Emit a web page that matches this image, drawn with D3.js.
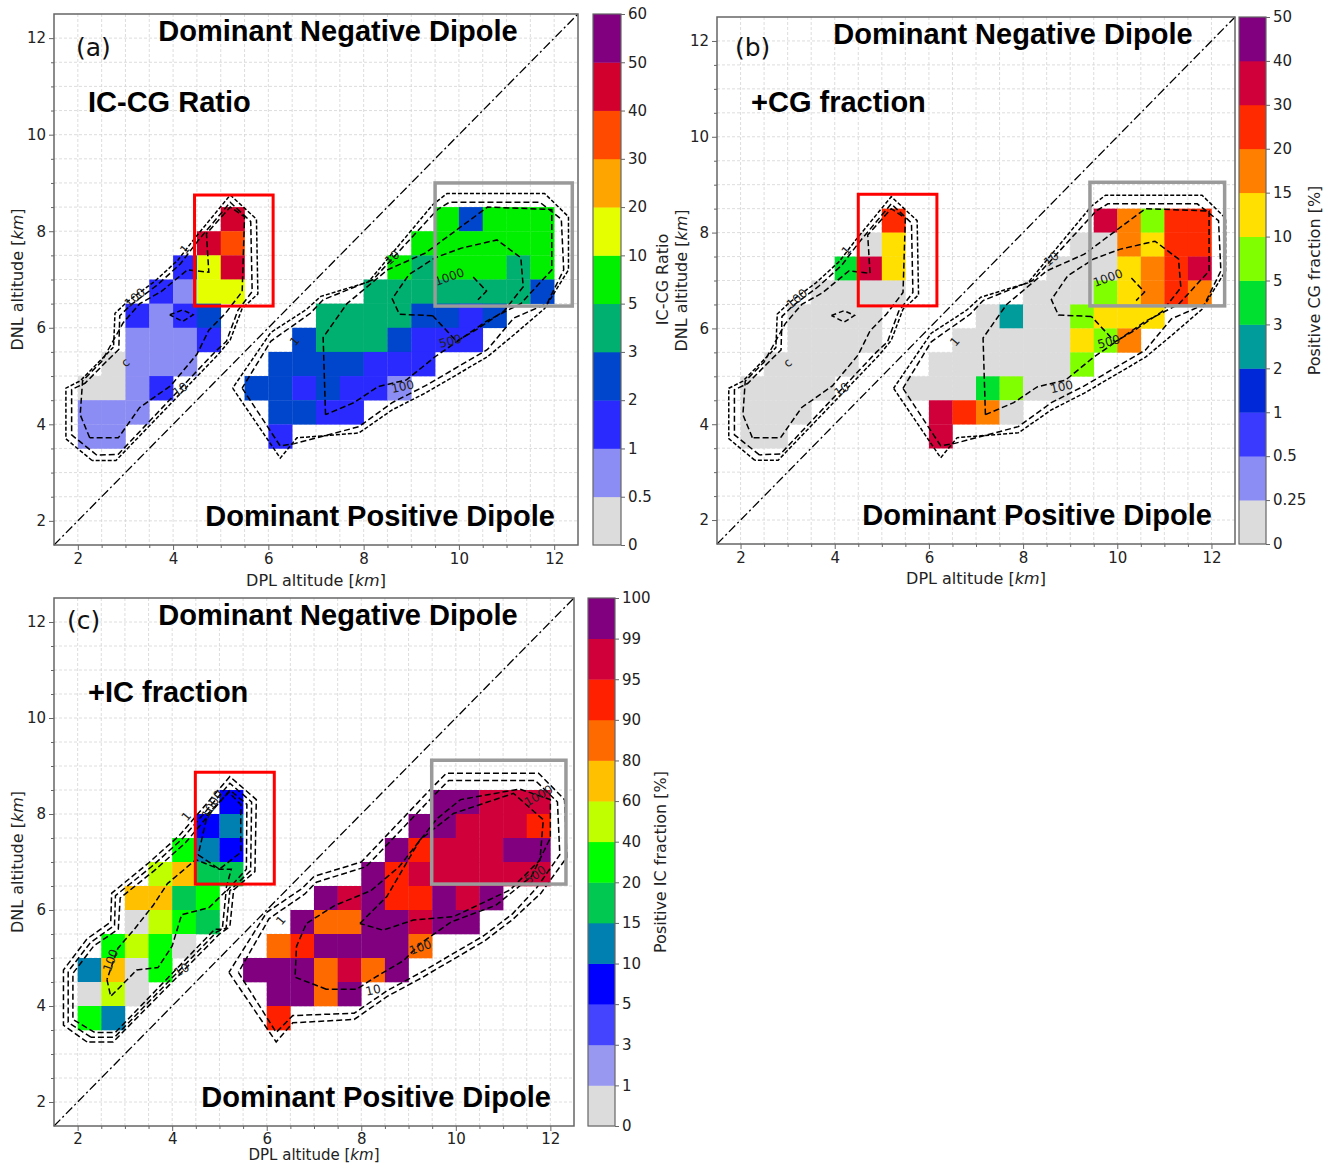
<!DOCTYPE html>
<html><head><meta charset="utf-8">
<script src="https://cdn.jsdelivr.net/npm/d3@7"></script>
<style>body{margin:0;background:#fff}</style>
</head><body>
<svg id="c" width="1334" height="1165" xmlns="http://www.w3.org/2000/svg"></svg>
<script>
// ---------------- data ----------------
const axisTicks = [2, 4, 6, 8, 10, 12];

const ratioBounds = [0, 0.5, 1, 2, 3, 5, 10, 20, 30, 40, 50, 60];
const ratioColors = ["#dcdcdc", "#8c8cf5", "#2a2aff", "#0046cc", "#00b070", "#00f000", "#e6ff00", "#ffa500", "#ff4a00", "#d2002d", "#800080"];

const cgBounds = [0, 0.25, 0.5, 1, 2, 3, 5, 10, 15, 20, 30, 40, 50];
const cgColors = ["#dcdcdc", "#8c8cf5", "#3a3aff", "#0028d8", "#009b9b", "#00e030", "#80ff00", "#ffe000", "#ff8000", "#ff2a00", "#d0003a", "#800080"];

const icBounds = [0, 1, 3, 5, 10, 15, 20, 40, 60, 80, 90, 95, 99, 100];
const icColors = ["#dcdcdc", "#9898f0", "#4444ff", "#0000ff", "#0080b0", "#00c850", "#00ff00", "#c0ff00", "#ffc000", "#ff6a00", "#ff2000", "#d0003a", "#800080"];

// [DPL km (cell left), DNL km (cell bottom), value]
const ratioCells = [
  [5,8,45],
  [4.5,7.5,45],[5,7.5,35],
  [4,7,1.5],[4.5,7,15],[5,7,45],
  [3.5,6.5,1.5],[4,6.5,0.7],[4.5,6.5,15],[5,6.5,15],
  [3,6,1.5],[3.5,6,0.7],[4,6,1.5],[4.5,6,2.5],
  [3,5.5,0.7],[3.5,5.5,0.7],[4,5.5,0.7],[4.5,5.5,1.5],
  [2.5,5,0.3],[3,5,0.7],[3.5,5,0.7],[4,5,0.7],
  [2,4.5,0.3],[2.5,4.5,0.3],[3,4.5,0.7],[3.5,4.5,1.5],
  [2,4,0.7],[2.5,4,0.7],[3,4,0.7],
  [2,3.5,0.7],[2.5,3.5,0.7],
  [9.5,8,7],[10,8,2.5],[10.5,8,7],[11,8,7],[11.5,8,7],
  [9,7.5,7],[9.5,7.5,7],[10,7.5,7],[10.5,7.5,7],[11,7.5,7],[11.5,7.5,7],
  [8.5,7,7],[9,7,4],[9.5,7,7],[10,7,7],[10.5,7,7],[11,7,4],[11.5,7,7],
  [8,6.5,4],[8.5,6.5,4],[9,6.5,4],[9.5,6.5,4],[10,6.5,4],[10.5,6.5,4],[11,6.5,4],[11.5,6.5,2.5],
  [7,6,4],[7.5,6,4],[8,6,4],[8.5,6,4],[9,6,2.5],[9.5,6,2.5],[10,6,1.5],[10.5,6,2.5],
  [6.5,5.5,2.5],[7,5.5,4],[7.5,5.5,4],[8,5.5,4],[8.5,5.5,2.5],[9,5.5,1.5],[9.5,5.5,1.5],[10,5.5,1.5],
  [6,5,2.5],[6.5,5,2.5],[7,5,2.5],[7.5,5,2.5],[8,5,1.5],[8.5,5,1.5],[9,5,1.5],
  [5.5,4.5,2.5],[6,4.5,2.5],[6.5,4.5,1.5],[7,4.5,2.5],[7.5,4.5,1.5],[8,4.5,1.5],[8.5,4.5,0.7],
  [6,4,2.5],[6.5,4,2.5],[7,4,1.5],[7.5,4,1.5],
  [6,3.5,1.5]
];

const cgCells = [
  [5,8,25],
  [4.5,7.5,0.1],[5,7.5,12],
  [4,7,4],[4.5,7,35],[5,7,12],
  [3.5,6.5,0.1],[4,6.5,0.1],[4.5,6.5,0.1],[5,6.5,0.1],
  [3,6,0.1],[3.5,6,0.1],[4,6,0.1],[4.5,6,0.1],
  [3,5.5,0.1],[3.5,5.5,0.1],[4,5.5,0.1],[4.5,5.5,0.1],
  [2.5,5,0.1],[3,5,0.1],[3.5,5,0.1],[4,5,0.1],
  [2,4.5,0.1],[2.5,4.5,0.1],[3,4.5,0.1],[3.5,4.5,0.1],
  [2,4,0.1],[2.5,4,0.1],[3,4,0.1],
  [2,3.5,0.1],[2.5,3.5,0.1],
  [9.5,8,35],[10,8,17],[10.5,8,7],[11,8,25],[11.5,8,25],
  [9,7.5,0.1],[9.5,7.5,0.1],[10,7.5,17],[10.5,7.5,12],[11,7.5,25],[11.5,7.5,25],
  [8.5,7,0.1],[9,7,0.1],[9.5,7,0.1],[10,7,12],[10.5,7,17],[11,7,25],[11.5,7,35],
  [8,6.5,0.1],[8.5,6.5,0.1],[9,6.5,0.1],[9.5,6.5,7],[10,6.5,12],[10.5,6.5,17],[11,6.5,25],[11.5,6.5,17],
  [7,6,0.1],[7.5,6,2.5],[8,6,0.1],[8.5,6,0.1],[9,6,7],[9.5,6,12],[10,6,12],[10.5,6,12],
  [6.5,5.5,0.1],[7,5.5,0.1],[7.5,5.5,0.1],[8,5.5,0.1],[8.5,5.5,0.1],[9,5.5,12],[9.5,5.5,7],[10,5.5,17],
  [6,5,0.1],[6.5,5,0.1],[7,5,0.1],[7.5,5,0.1],[8,5,0.1],[8.5,5,0.1],[9,5,7],
  [5.5,4.5,0.1],[6,4.5,0.1],[6.5,4.5,0.1],[7,4.5,4],[7.5,4.5,7],[8,4.5,0.1],[8.5,4.5,0.1],
  [6,4,35],[6.5,4,25],[7,4,17],[7.5,4,0.1],
  [6,3.5,35]
];

const icCells = [
  [5,8,7],
  [4.5,7.5,7],[5,7.5,12],
  [4,7,30],[4.5,7,12],[5,7,7],
  [3.5,6.5,50],[4,6.5,70],[4.5,6.5,17],[5,6.5,17],
  [3,6,70],[3.5,6,70],[4,6,17],[4.5,6,30],
  [3,5.5,0.5],[3.5,5.5,50],[4,5.5,30],[4.5,5.5,17],
  [2.5,5,30],[3,5,50],[3.5,5,30],[4,5,0.5],
  [2,4.5,12],[2.5,4.5,70],[3,4.5,0.5],[3.5,4.5,30],
  [2,4,0.5],[2.5,4,50],[3,4,0.5],
  [2,3.5,30],[2.5,3.5,12],
  [9.5,8,99.5],[10,8,99.5],[10.5,8,97],[11,8,97],[11.5,8,97],
  [9,7.5,99.5],[9.5,7.5,99.5],[10,7.5,97],[10.5,7.5,97],[11,7.5,97],[11.5,7.5,92],
  [8.5,7,99.5],[9,7,92],[9.5,7,97],[10,7,97],[10.5,7,97],[11,7,99.5],[11.5,7,99.5],
  [8,6.5,99.5],[8.5,6.5,92],[9,6.5,97],[9.5,6.5,97],[10,6.5,97],[10.5,6.5,97],[11,6.5,97],[11.5,6.5,97],
  [7,6,99.5],[7.5,6,97],[8,6,99.5],[8.5,6,92],[9,6,92],[9.5,6,99.5],[10,6,97],[10.5,6,99.5],
  [6.5,5.5,99.5],[7,5.5,85],[7.5,5.5,85],[8,5.5,99.5],[8.5,5.5,99.5],[9,5.5,97],[9.5,5.5,99.5],[10,5.5,99.5],
  [6,5,85],[6.5,5,92],[7,5,99.5],[7.5,5,99.5],[8,5,99.5],[8.5,5,99.5],[9,5,85],
  [5.5,4.5,99.5],[6,4.5,99.5],[6.5,4.5,99.5],[7,4.5,85],[7.5,4.5,97],[8,4.5,85],[8.5,4.5,99.5],
  [6,4,99.5],[6.5,4,99.5],[7,4,85],[7.5,4,99.5],
  [6,3.5,92]
];

// flash-count contours (km coordinates)
const countContoursAB = [
  {dash:"4,2", pts:[[2.3,3.25],[1.75,3.7],[1.75,4.75],[2.05,4.9],[2.55,5.4],[2.75,5.6],[2.78,6.3],[3.05,6.55],[3.6,6.95],[4.1,7.4],[4.45,7.85],[5.2,8.75],[5.75,8.25],[5.78,6.7],[5.45,6.4],[5.2,5.75],[4.95,5.45],[2.8,3.25],[2.3,3.25]]},
  {dash:"6,3", pts:[[2.4,3.36],[1.87,3.78],[1.87,4.72],[2.15,4.85],[2.62,5.32],[2.86,5.55],[2.88,6.25],[3.12,6.48],[3.66,6.88],[4.15,7.32],[4.52,7.8],[5.2,8.6],[5.63,8.2],[5.66,6.75],[5.36,6.36],[5.12,5.72],[4.88,5.5],[2.85,3.38],[2.4,3.36]]},
  {dash:"6,3", pts:[[2.25,3.72],[2.05,4.2],[2.1,4.9],[2.5,5.3],[2.95,6.1],[3.3,6.5],[3.75,6.75],[4.3,7.2],[4.75,7.15],[4.7,7.95],[5.2,8.5],[5.5,8.3],[5.45,6.75],[5.1,6.3],[4.75,5.95],[4.5,5.45],[3.95,4.8],[3.3,4.35],[2.85,3.72],[2.25,3.72]]},
  {dash:"5,3", pts:[[3.93,6.27],[4.2,6.37],[4.42,6.27],[4.2,6.13],[3.93,6.27]]},
  {dash:"4,2", pts:[[5.25,4.75],[6.25,3.3],[6.6,3.72],[7.9,3.82],[8.6,4.3],[9.3,4.65],[10.6,5.4],[11.15,5.85],[11.8,6.4],[12.3,7.2],[12.3,8.3],[11.8,8.78],[9.75,8.78],[9.45,8.55],[8.1,6.95],[7.1,6.65],[6.8,6.38],[6.05,5.9],[5.25,4.75]]},
  {dash:"6,3", pts:[[5.45,4.75],[6.25,3.55],[6.55,3.6],[7.9,3.95],[8.6,4.45],[9.3,4.8],[10.6,5.55],[11.15,6.2],[11.85,6.5],[12.2,7.2],[12.15,8.25],[11.7,8.6],[9.8,8.6],[9.55,8.45],[8.2,7.0],[7.15,6.58],[6.88,6.3],[6.05,5.72],[5.45,4.75]]},
  {dash:"6,3", pts:[[7.2,4.2],[7.15,5.8],[7.65,6.5],[8.5,7.2],[9.3,7.55],[10.6,8.5],[11.95,8.45],[11.95,7.2],[11.3,6.5],[10.6,6.15],[9.5,5.4],[8.9,4.92],[8.3,4.78],[7.8,4.45],[7.2,4.2]]},
  {dash:"6,3", pts:[[9.45,6.25],[8.75,6.28],[8.6,6.6],[8.95,7.1],[9.5,7.45],[10.05,7.65],[10.8,7.82],[11.3,7.45],[11.35,6.85],[10.95,6.35],[10.35,5.95],[9.95,5.72],[9.45,6.25]]},
  {dash:"6,3", pts:[[10.3,7.05],[10.58,6.76],[10.4,6.58]]}
];
const countLabelsAB = [
  {t:"1", x:4.25, y:7.62, r:-50}, {t:"100", x:3.2, y:6.62, r:-40}, {t:"c", x:3.0, y:5.28, r:-40},
  {t:"10", x:4.15, y:4.72, r:-35}, {t:"1", x:6.55, y:5.72, r:-50}, {t:"10", x:8.6, y:7.45, r:-40},
  {t:"1000", x:9.8, y:7.05, r:-20}, {t:"500", x:9.82, y:5.72, r:-15}, {t:"100", x:8.82, y:4.78, r:-12}
];

const countContoursC = [
  {dash:"6,3", pts:[[2.2,3.25],[1.7,3.6],[1.7,4.75],[2.2,5.4],[2.7,5.75],[2.72,6.35],[3.5,6.98],[4.15,7.55],[5.22,8.78],[5.78,8.3],[5.75,6.8],[5.3,6.42],[5.22,5.65],[5.0,5.5],[2.75,3.25],[2.2,3.25]]},
  {dash:"6,3", pts:[[2.28,3.35],[1.8,3.66],[1.8,4.72],[2.27,5.32],[2.78,5.68],[2.8,6.3],[3.56,6.9],[4.2,7.47],[5.22,8.64],[5.68,8.25],[5.66,6.82],[5.22,6.4],[5.14,5.62],[4.95,5.55],[2.78,3.35],[2.28,3.35]]},
  {dash:"6,3", pts:[[2.36,3.45],[1.9,3.72],[1.9,4.68],[2.34,5.25],[2.86,5.6],[2.9,6.25],[3.62,6.82],[4.28,7.4],[5.22,8.5],[5.58,8.2],[5.57,6.85],[5.14,6.38],[5.06,5.6],[4.9,5.6],[2.8,3.45],[2.36,3.45]]},
  {dash:"6,3", pts:[[2.62,4.55],[2.7,4.2],[3.25,4.75],[3.7,4.8],[4.0,5.25],[4.2,5.9],[4.78,6.05],[5.12,6.38],[5.25,6.85],[5.0,6.85],[4.5,7.05],[3.9,6.55],[3.6,6.1],[3.2,5.6],[2.85,5.2],[2.62,4.55]]},
  {dash:"6,3", pts:[[4.55,7.15],[5.0,6.85],[5.45,7.2],[5.45,8.2],[5.2,8.45],[4.75,8.0],[4.55,7.15]]},
  {dash:"6,3", pts:[[5.2,4.7],[6.2,3.25],[6.55,3.65],[7.85,3.72],[8.55,4.2],[9.3,4.6],[10.6,5.35],[11.2,5.8],[11.8,6.35],[12.35,7.1],[12.3,8.3],[11.75,8.85],[9.8,8.85],[9.45,8.5],[8.0,7.0],[7.0,6.7],[6.75,6.45],[6.0,5.95],[5.2,4.7]]},
  {dash:"6,3", pts:[[5.4,4.7],[6.2,3.45],[6.55,3.8],[7.85,3.85],[8.55,4.32],[9.3,4.72],[10.6,5.47],[11.2,5.92],[11.7,6.45],[12.2,7.15],[12.15,8.25],[11.68,8.7],[9.85,8.7],[9.55,8.4],[8.1,6.9],[7.05,6.58],[6.8,6.33],[6.05,5.82],[5.4,4.7]]},
  {dash:"6,3", pts:[[7.26,4.35],[6.6,4.6],[6.63,5.24],[6.84,5.72],[7.45,6.1],[8.2,6.4],[8.8,6.9],[9.6,7.9],[10.1,8.3],[11.35,8.52],[12.0,8.3],[12.0,7.5],[11.6,6.7],[10.85,6.1],[9.9,5.75],[9.25,5.3],[8.9,4.95],[8.3,4.6],[7.9,4.35],[7.26,4.35]]},
  {dash:"6,3", pts:[[7.97,5.72],[8.54,6.28],[9.24,7.46],[9.95,8.01],[11.22,8.43],[11.85,7.88],[11.78,7.04],[11.15,6.42],[9.95,5.86],[9.1,5.79],[8.46,5.58],[7.97,5.72]]}
];
const countLabelsC = [
  {t:"1", x:4.3, y:7.95, r:-50}, {t:"1000", x:4.85, y:8.2, r:-60}, {t:"100", x:2.7, y:4.95, r:-70},
  {t:"10", x:4.2, y:4.75, r:-30}, {t:"1", x:6.3, y:5.78, r:-50}, {t:"10", x:8.25, y:4.33, r:-12},
  {t:"100", x:9.25, y:5.22, r:-20}, {t:"500", x:11.68, y:6.73, r:-35}, {t:"1000", x:11.75, y:8.38, r:-30}
];

// ---------------- drawing ----------------
const svg = d3.select("#c");
const TICKFONT = "DejaVu Sans, sans-serif";
const BOLDFONT = "Liberation Sans, Arial, sans-serif";

function drawPanel(p) {
  const x = d3.scaleLinear().domain([1.5, 12.5]).range([p.l, p.r]);
  const y = d3.scaleLinear().domain([1.5, 12.5]).range([p.b, p.t]);
  const g = svg.append("g");
  const gridVals = d3.range(2, 12.01, 0.5);
  g.selectAll("line.gx").data(gridVals).join("line")
    .attr("x1", d => x(d)).attr("x2", d => x(d)).attr("y1", p.t).attr("y2", p.b)
    .attr("stroke", "#d6d6d6").attr("stroke-width", 0.8).attr("stroke-dasharray", "3,2");
  g.selectAll("line.gy").data(gridVals).join("line")
    .attr("y1", d => y(d)).attr("y2", d => y(d)).attr("x1", p.l).attr("x2", p.r)
    .attr("stroke", "#d6d6d6").attr("stroke-width", 0.8).attr("stroke-dasharray", "3,2");

  const color = d3.scaleThreshold().domain(p.bounds.slice(1, -1)).range(p.colors);
  g.selectAll("rect.cell").data(p.cells).join("rect")
    .attr("x", d => x(d[0])).attr("y", d => y(d[1] + 0.5))
    .attr("width", d => x(d[0] + 0.5) - x(d[0]) + 0.3)
    .attr("height", d => y(d[1]) - y(d[1] + 0.5) + 0.3)
    .attr("fill", d => color(d[2]));

  g.append("line").attr("x1", x(1.5)).attr("y1", y(1.5)).attr("x2", x(12.5)).attr("y2", y(12.5))
    .attr("stroke", "#000").attr("stroke-width", 1.3).attr("stroke-dasharray", "9,3,2,3");

  const line = d3.line().x(d => x(d[0])).y(d => y(d[1]));
  p.contours.forEach(c => {
    g.append("path").attr("d", line(c.pts)).attr("fill", "none")
      .attr("stroke", "#000").attr("stroke-width", 1.5).attr("stroke-dasharray", c.dash);
  });
  p.labels.forEach(l => {
    g.append("text").attr("transform", `translate(${x(l.x)},${y(l.y)}) rotate(${l.r})`)
      .attr("text-anchor", "middle").attr("dominant-baseline", "central")
      .attr("font-family", TICKFONT).attr("font-size", 12).attr("fill", "#222").text(l.t);
  });

  // highlight boxes
  g.append("rect").attr("x", x(p.red[0])).attr("y", y(p.red[3])).attr("width", x(p.red[1]) - x(p.red[0]))
    .attr("height", y(p.red[2]) - y(p.red[3])).attr("fill", "none").attr("stroke", "#ff0000").attr("stroke-width", 3);
  g.append("rect").attr("x", x(p.gray[0])).attr("y", y(p.gray[3])).attr("width", x(p.gray[1]) - x(p.gray[0]))
    .attr("height", y(p.gray[2]) - y(p.gray[3])).attr("fill", "none").attr("stroke", "#9a9a9a").attr("stroke-width", 3.5);

  // frame
  g.append("rect").attr("x", p.l).attr("y", p.t).attr("width", p.r - p.l).attr("height", p.b - p.t)
    .attr("fill", "none").attr("stroke", "#666").attr("stroke-width", 1.5);

  // axes
  const minor = d3.range(2, 12.01, 0.5).filter(v => v % 2 !== 0);
  const ax = g.append("g").attr("transform", `translate(0,${p.b})`)
    .call(d3.axisBottom(x).tickValues(axisTicks).tickSize(5).tickPadding(p.xPad));
  const axm = g.append("g").attr("transform", `translate(0,${p.b})`)
    .call(d3.axisBottom(x).tickValues(minor).tickSize(3).tickFormat(""));
  const ay = g.append("g").attr("transform", `translate(${p.l},0)`)
    .call(d3.axisLeft(y).tickValues(axisTicks).tickSize(5).tickPadding(3));
  const aym = g.append("g").attr("transform", `translate(${p.l},0)`)
    .call(d3.axisLeft(y).tickValues(minor).tickSize(3).tickFormat(""));
  [ax, axm, ay, aym].forEach(a => {
    a.select(".domain").remove();
    a.selectAll("line").attr("stroke", "#666");
    a.selectAll("text").attr("font-family", TICKFONT).attr("font-size", 15).attr("fill", "#222");
  });

  // axis titles
  const xt = g.append("text").attr("x", (p.l + p.r) / 2).attr("y", p.xlabY).attr("text-anchor", "middle")
    .attr("font-family", TICKFONT).attr("font-size", p.xlabSize).attr("fill", "#222");
  xt.append("tspan").text("DPL altitude [");
  xt.append("tspan").attr("font-style", "italic").text("km");
  xt.append("tspan").text("]");
  const yt = g.append("text").attr("transform", `translate(${p.ylabX},${(p.t + p.b) / 2}) rotate(-90)`)
    .attr("text-anchor", "middle").attr("font-family", TICKFONT).attr("font-size", 16).attr("fill", "#222");
  yt.append("tspan").text("DNL altitude [");
  yt.append("tspan").attr("font-style", "italic").text("km");
  yt.append("tspan").text("]");

  // annotations
  g.append("text").attr("x", p.tag[0]).attr("y", p.tag[1]).attr("font-family", TICKFONT)
    .attr("font-size", 25).attr("fill", "#111").text(p.tagText);
  g.append("text").attr("x", (p.l + p.r) / 2 + p.negDx).attr("y", p.t + 27).attr("text-anchor", "middle")
    .attr("font-family", BOLDFONT).attr("font-weight", "bold").attr("font-size", 29).attr("fill", "#000")
    .text("Dominant Negative Dipole");
  g.append("text").attr("x", p.r - 23).attr("y", p.b - 19).attr("text-anchor", "end")
    .attr("font-family", BOLDFONT).attr("font-weight", "bold").attr("font-size", 29).attr("fill", "#000")
    .text("Dominant Positive Dipole");
  g.append("text").attr("x", p.l + 34).attr("y", p.varY).attr("font-family", BOLDFONT)
    .attr("font-weight", "bold").attr("font-size", 29).attr("fill", "#000").text(p.varText);
}

function drawColorbar(cb) {
  const n = cb.bounds.length - 1;
  const s = d3.scaleLinear().domain([0, n]).range([cb.b, cb.t]);
  const g = svg.append("g");
  g.selectAll("rect.bin").data(d3.range(n)).join("rect")
    .attr("x", cb.l).attr("width", cb.r - cb.l)
    .attr("y", i => s(i + 1)).attr("height", i => s(i) - s(i + 1) + 0.4)
    .attr("fill", i => cb.colors[i]);
  g.append("rect").attr("x", cb.l).attr("y", cb.t).attr("width", cb.r - cb.l).attr("height", cb.b - cb.t)
    .attr("fill", "none").attr("stroke", "#666").attr("stroke-width", 1.2);
  const a = g.append("g").attr("transform", `translate(${cb.r},0)`)
    .call(d3.axisRight(s).tickValues(d3.range(n + 1)).tickFormat(i => cb.bounds[i]).tickSize(4).tickPadding(3));
  a.select(".domain").remove();
  a.selectAll("line").attr("stroke", "#666");
  a.selectAll("text").attr("font-family", TICKFONT).attr("font-size", 15).attr("fill", "#222");
  g.append("text").attr("transform", `translate(${cb.labX},${(cb.t + cb.b) / 2}) rotate(-90)`)
    .attr("text-anchor", "middle").attr("font-family", TICKFONT).attr("font-size", 16).attr("fill", "#222")
    .text(cb.label);
}

drawPanel({l:54, r:578, t:14, b:545, bounds:ratioBounds, colors:ratioColors, cells:ratioCells,
  contours:countContoursAB, labels:countLabelsAB, red:[4.45,6.1,6.45,8.75], gray:[9.5,12.38,6.45,9.0],
  xPad:3, xlabY:586, xlabSize:16, ylabX:23, tag:[76,56], tagText:"(a)", negDx:22, varY:112, varText:"IC-CG Ratio"});
drawColorbar({l:593, r:621, t:14, b:545, bounds:ratioBounds, colors:ratioColors, labX:668, label:"IC-CG Ratio"});

drawPanel({l:717, r:1235, t:17, b:544, bounds:cgBounds, colors:cgColors, cells:cgCells,
  contours:countContoursAB, labels:countLabelsAB, red:[4.5,6.17,6.47,8.8], gray:[9.42,12.28,6.47,9.05],
  xPad:3, xlabY:584, xlabSize:16, ylabX:687, tag:[735,56], tagText:"(b)", negDx:37, varY:112, varText:"+CG fraction"});
drawColorbar({l:1239, r:1266, t:17, b:544, bounds:cgBounds, colors:cgColors, labX:1320, label:"Positive CG fraction [%]"});

drawPanel({l:54, r:574, t:598, b:1126, bounds:icBounds, colors:icColors, cells:icCells,
  contours:countContoursC, labels:countLabelsC, red:[4.49,6.16,6.54,8.87], gray:[9.49,12.33,6.54,9.12],
  xPad:2, xlabY:1160, xlabSize:15, ylabX:23, tag:[67,629], tagText:"(c)", negDx:24, varY:702, varText:"+IC fraction"});
drawColorbar({l:588, r:615, t:598, b:1126, bounds:icBounds, colors:icColors, labX:666, label:"Positive IC fraction [%]"});
</script>
</body></html>
